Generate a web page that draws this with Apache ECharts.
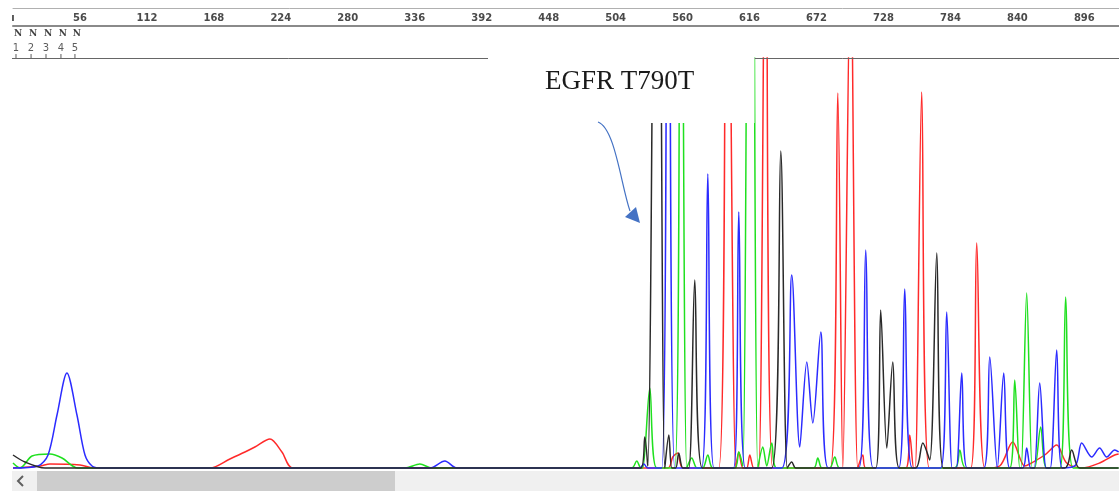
<!DOCTYPE html>
<html>
<head>
<meta charset="utf-8">
<script src="https://cdn.jsdelivr.net/npm/echarts@6/dist/echarts.min.js"></script>
<style>
  html, body { margin: 0; padding: 0; background: #fff; }
  #main { width: 1119px; height: 491px; }
</style>
</head>
<body>
<div id="main"></div>
<script>
// ruler ticks (scan position)
var rulerTicks = [0, 56, 112, 168, 224, 280, 336, 392, 448, 504, 560, 616, 672, 728, 784, 840, 896];

// base calls at the start of the read
var baseCalls = ['N', 'N', 'N', 'N', 'N'];
var basePos = [2.5, 15.1, 27.6, 40.1, 51.8];

// traces: [scan position, signal]  (values above 410 are off scale / clipped)
var traceA = [ // green
  [0, 5], [5.9, 0], [15.9, 12], [30.9, 14], [41.0, 10], [54.3, 0],
  [327.8, 0], [340.3, 4], [350.3, 0],
  [517.5, 0], [521.7, 7], [525.1, 0],
  [526.7, 0], [532.6, 80], [538.4, 0],
  [553.5, 0], [558.5, 800], [563.5, 0],
  [567.7, 10], [571.9, 0],
  [576.9, 0], [581.1, 13], [585.3, 0],
  [603.7, 0], [607.0, 16], [610.4, 2], [617.0, 1200], [622.9, 0],
  [627.1, 21], [630.4, 2], [634.6, 25], [638.8, 0],
  [669.7, 0], [673.1, 10], [676.4, 0],
  [683.1, 0], [687.3, 11], [691.5, 0],
  [787.6, 0], [791.8, 18], [796.8, 0],
  [833.6, 0], [837.8, 88], [842.0, 0],
  [843.2, 0], [847.8, 175], [852.4, 0],
  [854.5, 0], [859.5, 41], [864.5, 0],
  [875.6, 0], [880.4, 171], [886.6, 0],
  [924.7, 0]
];

var traceC = [ // blue
  [0, 0], [20.9, 2], [29.3, 13], [36.8, 53], [45.1, 95], [53.5, 53], [60.2, 13], [66.1, 2], [72.7, 0],
  [348.7, 0], [361.2, 7], [371.2, 0],
  [524.2, 0], [527.6, 4], [530.9, 0],
  [542.6, 0], [548.1, 1000], [553.5, 0],
  [575.9, 0], [581.1, 294], [586.3, 0],
  [602.7, 0], [607.0, 256], [612.5, 0],
  [643.0, 0], [651.3, 193], [658.0, 21], [663.9, 106], [668.9, 45], [675.6, 136], [681.8, 0],
  [707.4, 0], [713.2, 218], [719.4, 0],
  [740.8, 0], [745.8, 179], [752.1, 0],
  [775.9, 0], [780.9, 156], [785.5, 0],
  [788.9, 0], [793.5, 95], [798.0, 0],
  [811.9, 0], [816.9, 111], [823.2, 0],
  [828.6, 95], [833.6, 0],
  [844.5, 0], [847.8, 20], [851.1, 0],
  [854.1, 0], [858.7, 85], [864.1, 0],
  [867.5, 0], [872.9, 118], [877.5, 0],
  [888.8, 3], [893.8, 25], [902.2, 11], [908.8, 20], [914.7, 11], [921.4, 18], [924.7, 16]
];

var traceG = [ // black
  [0, 13], [10.0, 6], [26.8, 0],
  [525.1, 0], [528.4, 31], [530.9, 2], [538.9, 1000], [545.1, 0],
  [548.5, 33], [551.0, 0],
  [554.3, 0], [556.8, 15], [560.2, 0],
  [565.2, 0], [570.2, 188], [576.5, 0],
  [634.6, 0], [642.1, 317], [647.5, 0],
  [651.3, 6], [654.7, 0],
  [721.6, 0], [725.7, 158], [730.8, 20], [735.8, 106], [741.2, 0],
  [755.0, 0], [760.9, 25], [766.7, 8], [772.6, 215], [778.0, 0],
  [879.6, 0], [885.4, 18], [892.1, 0],
  [924.7, 0]
];

var traceT = [ // red
  [0, 0], [22.6, 2], [30.9, 4], [56.0, 3], [68.6, 0],
  [164.7, 0], [181.4, 9], [194.0, 16], [202.3, 21], [214.9, 29], [224.9, 16], [234.1, 0],
  [547.6, 0], [551.8, 11], [556.0, 15], [560.2, 0],
  [590.3, 0], [597.0, 750], [604.5, 0],
  [607.0, 16], [610.4, 0],
  [613.7, 0], [616.2, 13], [619.6, 0],
  [623.7, 0], [629.6, 650], [635.4, 0],
  [683.5, 0], [689.8, 375], [694.0, 0], [700.6, 520], [706.5, 0],
  [710.7, 13], [713.2, 0],
  [746.6, 0], [750.0, 33], [753.3, 0],
  [754.6, 0], [760.0, 376], [766.3, 0],
  [801.0, 0], [806.0, 225], [812.7, 0],
  [825.2, 2], [836.1, 26], [846.1, 2], [850.3, 4], [862.9, 13], [872.9, 23], [881.2, 5],
  [893.8, 0], [908.8, 5], [921.4, 13], [924.7, 14]
];

var chart = echarts.init(document.getElementById('main'));

function trace(name, data, color) {
  return {
    name: name,
    type: 'line',
    xAxisIndex: 0,
    yAxisIndex: 0,
    data: data,
    symbol: 'none',
    smooth: 0.3,
    clip: true,
    silent: true,
    lineStyle: { color: color, width: 1.5 }
  };
}

var option = {
  backgroundColor: '#fff',
  animation: false,
  grid: [
    { left: 13, right: 0, top: 58, bottom: 21 },
    { left: 13, right: 0, top: 8, height: 18 },
    { left: 13, right: 0, top: 28, height: 30 }
  ],
  xAxis: [
    { gridIndex: 0, type: 'value', min: 0, max: 925, show: false },
    {
      gridIndex: 1, type: 'value', min: 0, max: 925, position: 'bottom',
      axisLine: { lineStyle: { color: '#8a8a8a', width: 2 } },
      axisTick: { show: false },
      splitLine: { show: false },
      axisLabel: {
        inside: true,
        margin: 3,
        customValues: rulerTicks,
        formatter: function (v) { return v === 0 ? 'ı' : v; },
        color: '#4a4a4a',
        fontSize: 10,
        fontWeight: 'bold',
        fontFamily: 'DejaVu Sans'
      }
    },
    {
      gridIndex: 1, type: 'value', min: 0, max: 925, position: 'top',
      axisLine: { lineStyle: { color: '#b0b0b0', width: 1 } },
      axisTick: { show: false },
      axisLabel: { show: false },
      splitLine: { show: false }
    },
    { gridIndex: 2, type: 'value', min: 0, max: 925, show: false }
  ],
  yAxis: [
    { gridIndex: 0, type: 'value', min: -2, max: 410, show: false },
    { gridIndex: 1, type: 'value', min: 0, max: 1, show: false },
    { gridIndex: 2, type: 'value', min: 0, max: 30, show: false }
  ],
  graphic: [
    // trace window top line
    { type: 'line', z: 50, shape: { x1: 12, y1: 58.5, x2: 1119, y2: 58.5 }, style: { stroke: '#666', lineWidth: 1 } },
    // white label box over the peaks
    { type: 'rect', z: 100, shape: { x: 488, y: 50, width: 266.5, height: 73 }, style: { fill: '#fff' } },
    {
      type: 'text', z: 101, x: 545, y: 82,
      style: { text: 'EGFR T790T', fill: '#1a1a1a', font: '27px "Liberation Serif"', verticalAlign: 'middle' }
    },
    {
      type: 'bezierCurve', z: 101,
      shape: { x1: 598, y1: 122, cpx1: 615, cpy1: 128, cpx2: 621, cpy2: 185, x2: 630, y2: 211 },
      style: { stroke: '#4472c4', lineWidth: 1.2, fill: null }
    },
    { type: 'polygon', z: 101, shape: { points: [[640, 223], [625, 217], [636, 207]] }, style: { fill: '#4472c4' } },
    // scrollbar
    { type: 'rect', z: 100, shape: { x: 12, y: 471, width: 1107, height: 20 }, style: { fill: '#f0f0f0' } },
    { type: 'rect', z: 101, shape: { x: 37, y: 471, width: 358, height: 20 }, style: { fill: '#cdcdcd' } },
    { type: 'polyline', z: 101, shape: { points: [[23, 476], [18, 481], [23, 486]] }, style: { stroke: '#606060', lineWidth: 2, fill: null } }
  ],
  series: [
    trace('T', traceT, '#ff2a2a'),
    trace('A', traceA, '#1fe01f'),
    trace('C', traceC, '#2b2bff'),
    trace('G', traceG, '#2a2a2a'),
    {
      type: 'scatter', xAxisIndex: 3, yAxisIndex: 2, clip: false, silent: true,
      data: basePos.map(function (p) { return [p, 0]; }),
      symbol: 'rect', symbolSize: [1, 4], symbolOffset: [0, -2],
      itemStyle: { color: '#333' },
      label: {
        show: true, position: 'top', distance: 1,
        formatter: function (p) { return p.dataIndex + 1; },
        fontSize: 10, color: '#333', fontFamily: 'DejaVu Sans'
      }
    },
    {
      type: 'scatter', xAxisIndex: 3, yAxisIndex: 2, clip: false, silent: true,
      data: basePos.map(function (p) { return [p, 24]; }),
      symbol: 'rect', symbolSize: 1,
      itemStyle: { color: 'rgba(0,0,0,0)' },
      label: {
        show: true, position: 'inside', offset: [2, 0],
        formatter: function (p) { return baseCalls[p.dataIndex]; },
        fontSize: 9, fontWeight: 'bold', color: '#111', fontFamily: 'DejaVu Serif'
      }
    }
  ]
};

chart.setOption(option);
</script>
</body>
</html>
